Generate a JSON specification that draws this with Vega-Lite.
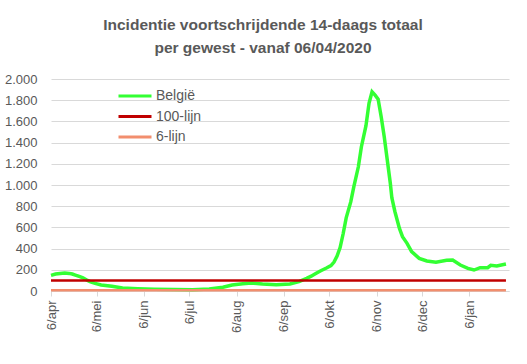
{
  "$schema": "https://vega.github.io/schema/vega-lite/v6.json",
  "width": 458,
  "height": 212,
  "autosize": {"type": "none"},
  "padding": {"left": 51, "top": 79, "right": 18, "bottom": 73},
  "background": "white",
  "title": {
    "text": ["Incidentie voortschrijdende 14-daags totaal", "per gewest - vanaf 06/04/2020"],
    "font": "Liberation Sans",
    "fontSize": 15.5,
    "fontWeight": "bold",
    "color": "#595959",
    "anchor": "middle",
    "dx": -17,
    "lineHeight": 23,
    "offset": 17
  },
  "data": {
    "values": [
      {"date": "2020-04-06", "value": 148, "series": "België"},
      {"date": "2020-04-09", "value": 160, "series": "België"},
      {"date": "2020-04-12", "value": 165, "series": "België"},
      {"date": "2020-04-15", "value": 170, "series": "België"},
      {"date": "2020-04-18", "value": 166, "series": "België"},
      {"date": "2020-04-20", "value": 160, "series": "België"},
      {"date": "2020-04-22", "value": 150, "series": "België"},
      {"date": "2020-04-25", "value": 136, "series": "België"},
      {"date": "2020-04-27", "value": 125, "series": "België"},
      {"date": "2020-04-30", "value": 100, "series": "België"},
      {"date": "2020-05-02", "value": 86, "series": "België"},
      {"date": "2020-05-05", "value": 72, "series": "België"},
      {"date": "2020-05-09", "value": 57, "series": "België"},
      {"date": "2020-05-16", "value": 44, "series": "België"},
      {"date": "2020-05-23", "value": 28, "series": "België"},
      {"date": "2020-06-02", "value": 22, "series": "België"},
      {"date": "2020-06-13", "value": 16, "series": "België"},
      {"date": "2020-06-26", "value": 13, "series": "België"},
      {"date": "2020-07-08", "value": 12, "series": "België"},
      {"date": "2020-07-19", "value": 19, "series": "België"},
      {"date": "2020-07-28", "value": 35, "series": "België"},
      {"date": "2020-08-03", "value": 57, "series": "België"},
      {"date": "2020-08-10", "value": 69, "series": "België"},
      {"date": "2020-08-16", "value": 75, "series": "België"},
      {"date": "2020-08-23", "value": 66, "series": "België"},
      {"date": "2020-09-01", "value": 59, "series": "België"},
      {"date": "2020-09-10", "value": 66, "series": "België"},
      {"date": "2020-09-16", "value": 88, "series": "België"},
      {"date": "2020-09-21", "value": 119, "series": "België"},
      {"date": "2020-09-24", "value": 140, "series": "België"},
      {"date": "2020-09-27", "value": 165, "series": "België"},
      {"date": "2020-09-30", "value": 189, "series": "België"},
      {"date": "2020-10-04", "value": 217, "series": "België"},
      {"date": "2020-10-07", "value": 240, "series": "België"},
      {"date": "2020-10-09", "value": 273, "series": "België"},
      {"date": "2020-10-11", "value": 330, "series": "België"},
      {"date": "2020-10-13", "value": 410, "series": "België"},
      {"date": "2020-10-15", "value": 540, "series": "België"},
      {"date": "2020-10-17", "value": 690, "series": "België"},
      {"date": "2020-10-20", "value": 840, "series": "België"},
      {"date": "2020-10-22", "value": 983, "series": "België"},
      {"date": "2020-10-25", "value": 1172, "series": "België"},
      {"date": "2020-10-27", "value": 1361, "series": "België"},
      {"date": "2020-10-30", "value": 1560, "series": "België"},
      {"date": "2020-11-01", "value": 1770, "series": "België"},
      {"date": "2020-11-03", "value": 1879, "series": "België"},
      {"date": "2020-11-05", "value": 1848, "series": "België"},
      {"date": "2020-11-07", "value": 1810, "series": "België"},
      {"date": "2020-11-09", "value": 1644, "series": "België"},
      {"date": "2020-11-11", "value": 1455, "series": "België"},
      {"date": "2020-11-13", "value": 1235, "series": "België"},
      {"date": "2020-11-15", "value": 1016, "series": "België"},
      {"date": "2020-11-16", "value": 880, "series": "België"},
      {"date": "2020-11-18", "value": 750, "series": "België"},
      {"date": "2020-11-21", "value": 590, "series": "België"},
      {"date": "2020-11-23", "value": 512, "series": "België"},
      {"date": "2020-11-26", "value": 450, "series": "België"},
      {"date": "2020-11-29", "value": 371, "series": "België"},
      {"date": "2020-12-04", "value": 308, "series": "België"},
      {"date": "2020-12-09", "value": 283, "series": "België"},
      {"date": "2020-12-15", "value": 271, "series": "België"},
      {"date": "2020-12-22", "value": 289, "series": "België"},
      {"date": "2020-12-26", "value": 292, "series": "België"},
      {"date": "2020-12-31", "value": 245, "series": "België"},
      {"date": "2021-01-05", "value": 214, "series": "België"},
      {"date": "2021-01-09", "value": 198, "series": "België"},
      {"date": "2021-01-13", "value": 220, "series": "België"},
      {"date": "2021-01-18", "value": 220, "series": "België"},
      {"date": "2021-01-20", "value": 242, "series": "België"},
      {"date": "2021-01-24", "value": 236, "series": "België"},
      {"date": "2021-01-30", "value": 255, "series": "België"},
      {"date": "2020-04-06", "value": 100, "series": "100-lijn"},
      {"date": "2021-01-30", "value": 100, "series": "100-lijn"},
      {"date": "2020-04-06", "value": 6, "series": "6-lijn"},
      {"date": "2021-01-30", "value": 6, "series": "6-lijn"}
    ]
  },
  "encoding": {
    "x": {
      "field": "date",
      "type": "temporal",
      "scale": {
        "type": "utc",
        "domain": [
          {"year": 2020, "month": 4, "date": 6, "utc": true},
          {"year": 2021, "month": 2, "date": 1, "utc": true}
        ]
      },
      "axis": {
        "title": null,
        "values": [
          {"year": 2020, "month": 4, "date": 6, "utc": true},
          {"year": 2020, "month": 5, "date": 6, "utc": true},
          {"year": 2020, "month": 6, "date": 6, "utc": true},
          {"year": 2020, "month": 7, "date": 6, "utc": true},
          {"year": 2020, "month": 8, "date": 6, "utc": true},
          {"year": 2020, "month": 9, "date": 6, "utc": true},
          {"year": 2020, "month": 10, "date": 6, "utc": true},
          {"year": 2020, "month": 11, "date": 6, "utc": true},
          {"year": 2020, "month": 12, "date": 6, "utc": true},
          {"year": 2021, "month": 1, "date": 6, "utc": true}
        ],
        "labelExpr": "'6/' + ['jan','feb','mrt','apr','mei','jun','jul','aug','sep','okt','nov','dec'][utcmonth(datum.value)]",
        "labelAngle": 270,
        "labelAlign": "right",
        "labelBaseline": "middle",
        "labelFont": "Liberation Sans",
        "labelFontSize": 13,
        "labelColor": "#595959",
        "labelPadding": 4,
        "labelOverlap": false,
        "labelFlush": false,
        "grid": false,
        "domain": true,
        "domainColor": "#D9D9D9",
        "ticks": true,
        "tickColor": "#D9D9D9",
        "tickSize": 5
      }
    },
    "y": {
      "field": "value",
      "type": "quantitative",
      "scale": {"domain": [0, 2000], "nice": false},
      "axis": {
        "title": null,
        "values": [0, 200, 400, 600, 800, 1000, 1200, 1400, 1600, 1800, 2000],
        "labelExpr": "replace(format(datum.value, ','), ',', '.')",
        "labelFont": "Liberation Sans",
        "labelFontSize": 13,
        "labelColor": "#595959",
        "labelPadding": 14,
        "ticks": false,
        "domain": false,
        "grid": true,
        "gridColor": "#D9D9D9",
        "gridWidth": 1
      }
    },
    "color": {
      "field": "series",
      "type": "nominal",
      "scale": {
        "domain": ["België", "100-lijn", "6-lijn"],
        "range": ["#33FF33", "#C00000", "#F28E6E"]
      },
      "legend": {
        "title": null,
        "orient": "none",
        "legendX": 66,
        "legendY": 7,
        "direction": "vertical",
        "symbolType": "stroke",
        "symbolSize": 1089,
        "symbolStrokeWidth": 3,
        "labelFont": "Liberation Sans",
        "labelFontSize": 14,
        "labelColor": "#595959",
        "labelOffset": 3,
        "clipHeight": 20,
        "rowPadding": 0.5
      }
    }
  },
  "layer": [
    {
      "transform": [{"filter": "datum.series === 'België'"}],
      "mark": {"type": "line", "strokeWidth": 3.5}
    },
    {
      "transform": [{"filter": "datum.series !== 'België'"}],
      "mark": {"type": "line", "strokeWidth": 2.5}
    }
  ],
  "config": {
    "view": {"stroke": null}
  }
}
